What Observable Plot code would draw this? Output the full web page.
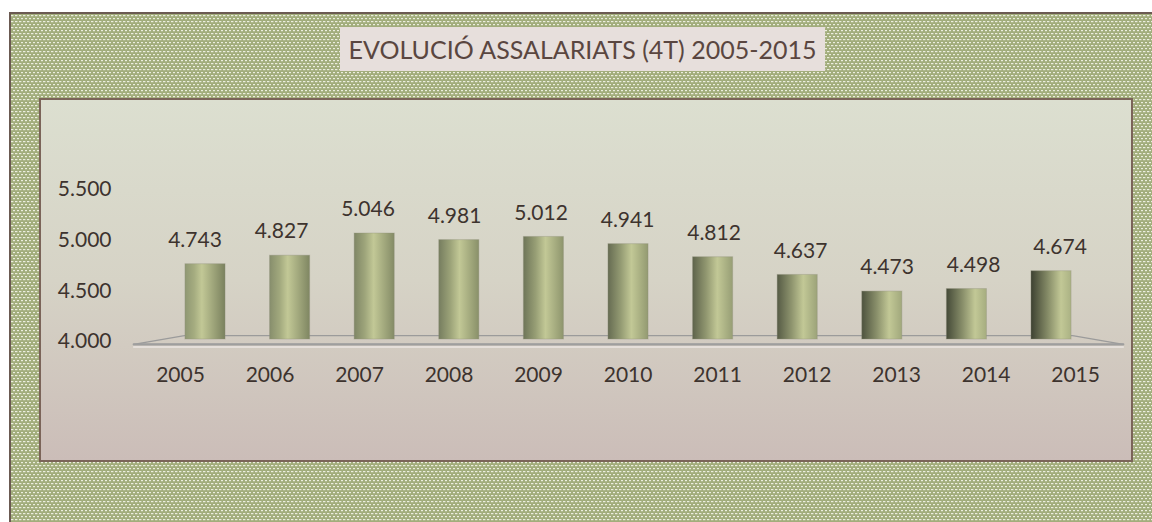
<!DOCTYPE html>
<html>
<head>
<meta charset="utf-8">
<script src="https://cdn.jsdelivr.net/npm/d3@7"></script>
<script src="https://cdn.jsdelivr.net/npm/@observablehq/plot@0.6"></script>
<style>
  html, body { margin: 0; padding: 0; background: #ffffff; }
  body { width: 1152px; height: 522px; position: relative; overflow: hidden; font-family: Lato, "Open Sans", sans-serif; }
  #frame {
    position: absolute; left: 9px; top: 12px; width: 1170px; height: 530px;
    border-left: 2px solid #6b5a52; border-top: 2px solid #6b5a52;
    background-color: #a2ad7c;
    background-image: url("data:image/svg+xml,%3Csvg xmlns='http://www.w3.org/2000/svg' width='4' height='6'%3E%3Crect width='4' height='6' fill='%23a2ad7c'/%3E%3Crect x='0' y='1' width='2.4' height='1.2' fill='%23eceedf'/%3E%3Crect x='2' y='4' width='2.4' height='1.2' fill='%23eceedf'/%3E%3C/svg%3E");
    background-size: 4px 6px;
  }
  #title {
    position: absolute; left: 340px; top: 27px; width: 485px; height: 44px;
    background: #e7dfdc; color: #5a4640; font-family: Lato, sans-serif; font-size: 25px;
    line-height: 44px; text-align: center; white-space: nowrap;
  }
  #panel {
    position: absolute; left: 39px; top: 98px; width: 1094px; height: 364px; box-sizing: border-box;
    border: 2px solid #7b6459;
    background: linear-gradient(to bottom, #dcdfd0 0%, #d6d3c6 50%, #cbbdb8 100%);
  }
  #panel svg { display: block; }
</style>
</head>
<body>
<div id="frame"></div>
<div id="title">EVOLUCIÓ ASSALARIATS (4T) 2005-2015</div>
<div id="panel"></div>
<script>
// ---- data ----
const years = [2005, 2006, 2007, 2008, 2009, 2010, 2011, 2012, 2013, 2014, 2015];
const assalariats = [4743, 4827, 5046, 4981, 5012, 4941, 4812, 4637, 4473, 4498, 4674];
const yTicks = [4000, 4500, 5000, 5500];

// ---- formatting (Catalan thousands separator) ----
const ca = d3.formatLocale({decimal: ",", thousands: ".", grouping: [3], currency: ["", " €"]});
const fmt = ca.format(",d");

const data = years.map((year, i) => ({year, value: assalariats[i], i}));
const base = 4000;

// perspective helpers (3D look of the original chart)
const mid = (years[0] + years[years.length - 1]) / 2;
const persp = (year, center, factor) => center + (year - center) * factor;
const halfBar = 0.237;

// floor of the 3D chart, derived from the year extent
const floor = [
  {x: persp(years[0] - 0.25, mid, 1), y: base + 39},
  {x: persp(years[years.length - 1] + 0.25, mid, 1), y: base + 39},
  {x: persp(years[years.length - 1] + 0.25, mid, 1.114), y: base - 49},
  {x: persp(years[0] - 0.25, mid, 1.114), y: base - 49},
  {x: persp(years[0] - 0.25, mid, 1), y: base + 39}
];
const floorFront = floor.slice(2, 4);

const chart = Plot.plot({
  width: 1090,
  height: 360,
  marginLeft: 164,
  marginRight: 80,
  marginTop: 87,
  marginBottom: 121,
  x: {domain: [years[0], years[years.length - 1]], axis: null},
  y: {domain: [4000, 5500], axis: null},
  style: {background: "transparent", fontFamily: "Lato, 'Open Sans', sans-serif", fontSize: "21px", color: "#3d332e", overflow: "visible"},
  marks: [
    Plot.line(floor, {x: "x", y: "y", stroke: "#9b9b9b", strokeWidth: 1.3}),
    Plot.line(floorFront, {x: "x", y: "y", stroke: "#9e9e9e", strokeWidth: 2.2}),
    Plot.line(floorFront, {x: "x", y: "y", stroke: "#ebe6e2", strokeWidth: 1.5, dy: 2.5}),
    Plot.rect(data, {
      x1: d => d.year - halfBar, x2: d => d.year + halfBar,
      y1: () => base, y2: "value",
      fill: {value: d => `url(#cyl-${d.year})`, scale: null},
      stroke: "#8e8f7c", strokeOpacity: 0.35, strokeWidth: 1
    }),
    Plot.axisY({ticks: yTicks, tickSize: 0, tickPadding: 94, tickFormat: fmt, label: null, dy: 2, fill: "#3d332e"}),
    Plot.text(data, {
      x: d => persp(d.year, years[0] + 5.5, 1.0225), y: "value", dy: -24,
      text: d => fmt(d.value), fill: "#3d332e"
    }),
    Plot.text(data, {
      x: d => persp(d.year, years[0] + 5.09, 1.058), y: () => base, dy: 36,
      text: d => String(d.year), fill: "#3d332e"
    })
  ]
});

// cylinder-like shading gradients, one per bar
const defs = d3.select(chart).insert("defs", ":first-child");
const leftC = d3.interpolateRgb("#8f9772", "#3d4131");
const rightC = d3.interpolateRgb("#7a815e", "#abb284");
data.forEach(d => {
  const t = d.i / (data.length - 1);
  const g = defs.append("linearGradient").attr("id", `cyl-${d.year}`).attr("x1", "0").attr("x2", "1").attr("y1", "0").attr("y2", "0");
  const hp = 0.42 + 0.33 * t;
  g.append("stop").attr("offset", 0).attr("stop-color", leftC(t));
  g.append("stop").attr("offset", hp * 0.55).attr("stop-color", d3.interpolateRgb(leftC(t), "#b3ba89")(0.6));
  g.append("stop").attr("offset", hp).attr("stop-color", "#c2c896");
  g.append("stop").attr("offset", 1).attr("stop-color", rightC(t));
});

document.getElementById("panel").appendChild(chart);
</script>
</body>
</html>
